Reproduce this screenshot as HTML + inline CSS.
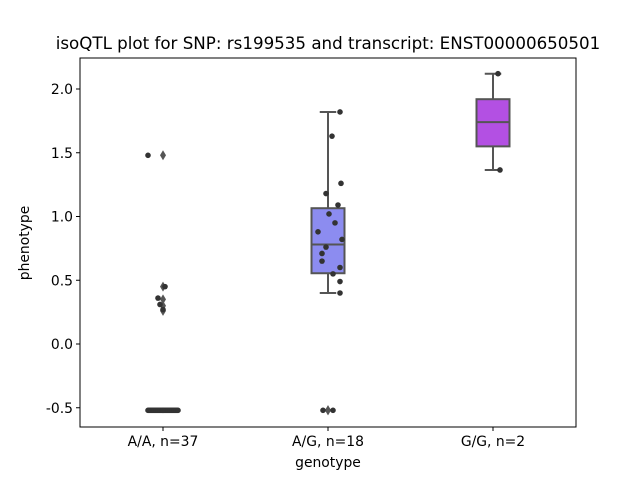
<!DOCTYPE html>
<html><head><meta charset="utf-8"><style>
body{margin:0;background:#fff;font-family:"Liberation Sans","DejaVu Sans",sans-serif}
svg text{font-family:"DejaVu Sans","Liberation Sans",sans-serif;fill:#000}
</style></head><body>
<svg id="chart" width="640" height="480"></svg>
<script>
const categories=["A/A, n=37","A/G, n=18","G/G, n=2"];
const boxQ1=[-0.52,0.555,1.55];
const boxMed=[-0.52,0.78,1.74];
const boxQ3=[-0.52,1.065,1.92];
const whiskLo=[-0.52,0.40,1.365];
const whiskHi=[-0.52,1.82,2.12];
const boxColors=["#6a6ae0","#8c8cf0","#b350e3"];
const outliers=[[1.48,0.45,0.35,0.30,0.26],[-0.52,-0.52],[]];
const ptsAA=[1.48,0.45,0.36,0.31,0.27,-0.52,-0.52,-0.52,-0.52,-0.52,-0.52,-0.52,-0.52,-0.52,-0.52,-0.52,-0.52,-0.52,-0.52,-0.52,-0.52,-0.52,-0.52,-0.52,-0.52,-0.52,-0.52,-0.52,-0.52,-0.52,-0.52,-0.52,-0.52,-0.52,-0.52,-0.52,-0.52];
const ptsAG=[1.82,1.63,1.26,1.18,1.09,1.02,0.95,0.88,0.82,0.76,0.71,0.65,0.60,0.55,0.49,0.40,-0.52,-0.52];
const ptsGG=[2.12,1.365];
const yTicks=[-0.5,0.0,0.5,1.0,1.5,2.0];
const points=[ptsAA,ptsAG,ptsGG];
const NS="http://www.w3.org/2000/svg";
const svg=document.getElementById('chart');
const L=80,R=576,T=58,B=427;
const y=v=>344-127.5*v;
const x=i=>163+165*i;
function mk(t,a,p){const e=document.createElementNS(NS,t);for(const k in a)e.setAttribute(k,a[k]);(p||svg).appendChild(e);return e;}
categories.forEach((c,i)=>{
  const g=mk('g',{});
  
  
  const cx=x(i),w=33;
  mk('line',{x1:cx,x2:cx,y1:y(whiskHi[i]),y2:y(boxQ3[i]),stroke:'#555','stroke-width':2},g);
  mk('line',{x1:cx,x2:cx,y1:y(boxQ1[i]),y2:y(whiskLo[i]),stroke:'#555','stroke-width':2},g);
  mk('line',{x1:cx-w/4,x2:cx+w/4,y1:y(whiskHi[i]),y2:y(whiskHi[i]),stroke:'#555','stroke-width':2},g);
  mk('line',{x1:cx-w/4,x2:cx+w/4,y1:y(whiskLo[i]),y2:y(whiskLo[i]),stroke:'#555','stroke-width':2},g);
  mk('rect',{x:cx-w/2,y:y(boxQ3[i]),width:w,height:Math.max(0.5,y(boxQ1[i])-y(boxQ3[i])),fill:boxColors[i],stroke:'#555','stroke-width':2},g);
  mk('line',{x1:cx-w/2,x2:cx+w/2,y1:y(boxMed[i]),y2:y(boxMed[i]),stroke:'#555','stroke-width':2},g);
  outliers[i].forEach(v=>{
    const d=mk('path',{d:`M${cx},${y(v)-5} L${cx+3},${y(v)} L${cx},${y(v)+5} L${cx-3},${y(v)} Z`,fill:'#555'},g);
    
    
  });
});
const jit=[-15,2,-5,-3,0,-14,-12,-10,-8,-6,-4,-2,0,2,4,6,8,10,12,14,-13,-11,-9,-7,-5,-3,-1,1,3,5,7,9,11,13,-15,15,0];
const jitAG=[12,4,13,-2,10,1,7,-10,14,-2,-6,-6,12,5,12,12,-5,5];
const jitGG=[5,7];
const jits=[jit,jitAG,jitGG];
points.forEach((arr,i)=>arr.forEach((v,k)=>{
  const c=mk('circle',{cx:x(i)+jits[i][k%jits[i].length],cy:y(v),r:2.8,fill:'#333'});
  
  
}));
const fr=mk('rect',{x:L,y:T,width:R-L,height:B-T,fill:'none',stroke:'#000','stroke-width':1});


yTicks.forEach(v=>{
  mk('line',{x1:L-4,x2:L,y1:y(v),y2:y(v),stroke:'#000'});
  const t=mk('text',{x:L-7,y:y(v)+5,'text-anchor':'end','font-size':13.9});
  t.textContent=v.toFixed(1);
  
  
});
categories.forEach((c,i)=>{
  mk('line',{x1:x(i),x2:x(i),y1:B,y2:B+4,stroke:'#000'});
  const t=mk('text',{x:x(i),y:B+19,'text-anchor':'middle','font-size':13.9});
  t.textContent=c;
  
  
});
const xt=mk('text',{x:328,y:467,'text-anchor':'middle','font-size':13.9});xt.textContent='genotype';


const yt=mk('text',{x:0,y:0,'text-anchor':'middle','font-size':13.9,transform:'translate(29,243) rotate(-90)'});yt.textContent='phenotype';


const ti=mk('text',{x:328,y:49,'text-anchor':'middle','font-size':16.7});ti.textContent='isoQTL plot for SNP: rs199535 and transcript: ENST00000650501';


</script>
</body></html>
